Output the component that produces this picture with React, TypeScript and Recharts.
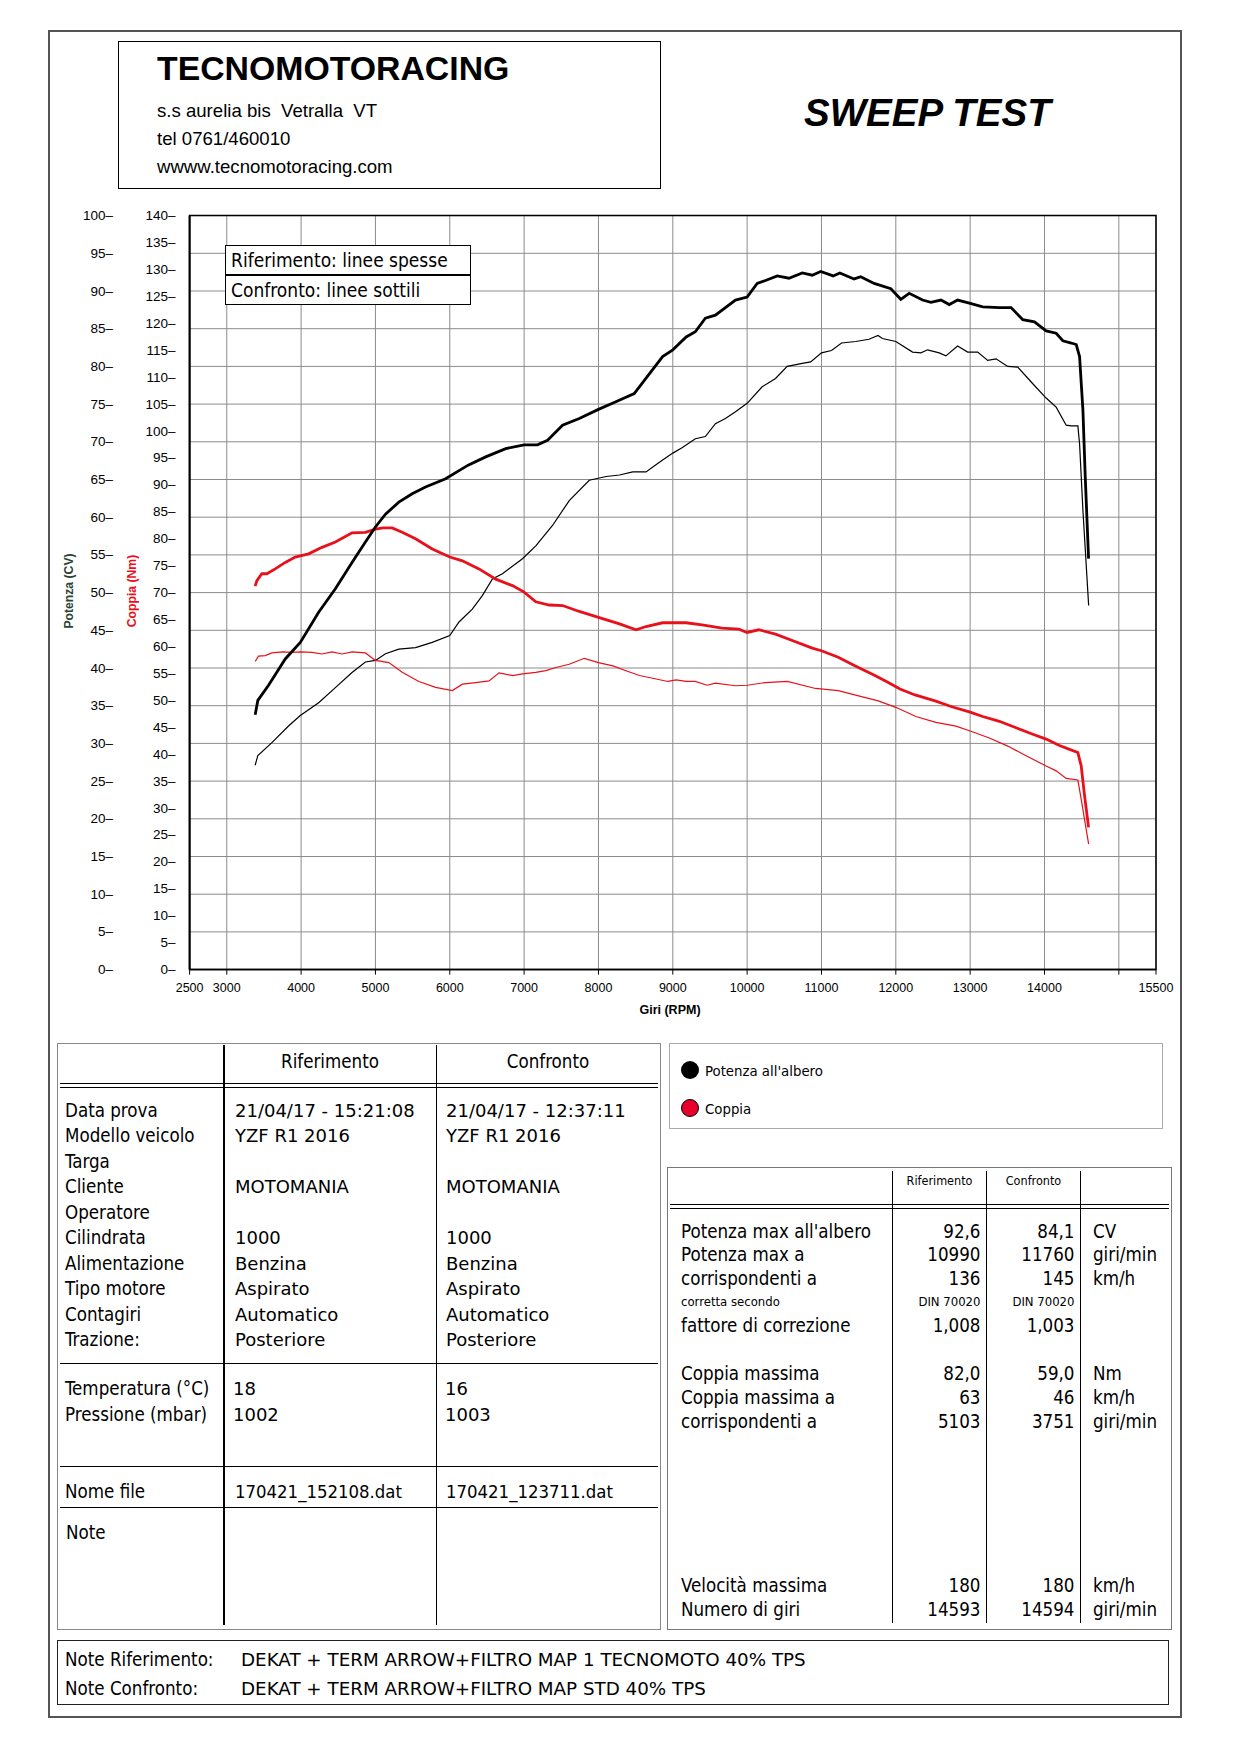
import React from 'react';
import { LineChart, Line, XAxis, YAxis, CartesianGrid, ReferenceArea } from 'recharts';

// ---------- data ----------
const rpmTicks = [2500, 3000, 4000, 5000, 6000, 7000, 8000, 9000, 10000, 11000, 12000, 13000, 14000, 15000, 15500];
const powerTicks = [0, 5, 10, 15, 20, 25, 30, 35, 40, 45, 50, 55, 60, 65, 70, 75, 80, 85, 90, 95, 100];
const torqueTicks = [0, 5, 10, 15, 20, 25, 30, 35, 40, 45, 50, 55, 60, 65, 70, 75, 80, 85, 90, 95, 100, 105, 110, 115, 120, 125, 130, 135, 140];

// [rpm, CV]
const refPower = [
  [3382, 33.8], [3418, 35.7], [3562, 37.7], [3787, 41.2], [3989, 43.4], [4236, 47.4], [4461, 50.5],
  [4685, 54.0], [4865, 56.7], [5000, 58.7], [5135, 60.4], [5315, 62.0], [5494, 63.1], [5674, 64.0],
  [5944, 65.1], [6247, 66.9], [6483, 68.0], [6753, 69.1], [7000, 69.6], [7180, 69.6], [7315, 70.2],
  [7517, 72.2], [7742, 73.1], [8000, 74.3], [8234, 75.3], [8481, 76.4], [8638, 78.4], [8863, 81.3],
  [9000, 82.2], [9180, 83.9], [9303, 84.6], [9438, 86.4], [9573, 86.8], [9843, 88.8], [10000, 89.2],
  [10135, 91.0], [10247, 91.4], [10405, 92.0], [10562, 91.7], [10742, 92.4], [10876, 92.1], [10990, 92.6],
  [11157, 92.0], [11247, 92.4], [11438, 91.6], [11528, 91.9], [11708, 91.0], [11933, 90.3], [12067, 88.9],
  [12180, 89.7], [12360, 88.8], [12472, 88.5], [12607, 88.8], [12719, 88.2], [12831, 88.8], [12989, 88.4],
  [13169, 87.9], [13393, 87.8], [13551, 87.8], [13708, 86.2], [13865, 85.9], [14022, 84.7], [14157, 84.4],
  [14247, 83.4], [14360, 83.1], [14427, 82.9], [14472, 81.3], [14517, 74.2], [14548, 65.4], [14593, 54.5],
];

const confPower = [
  [3382, 27.1], [3418, 28.4], [3607, 30.1], [3831, 32.3], [3989, 33.7], [4236, 35.4], [4461, 37.4],
  [4685, 39.4], [4865, 40.8], [5000, 41.0], [5135, 41.9], [5315, 42.5], [5539, 42.7], [5764, 43.4],
  [6000, 44.3], [6124, 46.1], [6303, 47.8], [6438, 49.6], [6573, 51.8], [6708, 52.5], [6978, 54.5],
  [7157, 56.2], [7382, 58.9], [7607, 62.2], [7876, 64.9], [8103, 65.4], [8283, 65.6], [8461, 66.0],
  [8640, 66.0], [8820, 67.3], [9000, 68.5], [9124, 69.2], [9303, 70.4], [9438, 70.7], [9573, 72.4],
  [9708, 73.1], [9843, 74.0], [10000, 75.1], [10202, 77.3], [10382, 78.4], [10539, 80.0], [10742, 80.4],
  [10854, 80.6], [11000, 81.8], [11135, 82.1], [11270, 83.1], [11461, 83.3], [11640, 83.6], [11760, 84.1],
  [11820, 83.7], [12000, 83.3], [12225, 81.9], [12337, 81.8], [12427, 82.2], [12584, 81.8], [12674, 81.4],
  [12831, 82.7], [12966, 81.9], [13101, 81.9], [13236, 80.8], [13348, 81.0], [13506, 80.0], [13640, 79.9],
  [13843, 77.7], [14022, 75.8], [14157, 74.6], [14292, 72.2], [14360, 72.1], [14449, 72.1], [14472, 69.7],
  [14517, 60.9], [14594, 48.3],
];

// [rpm, Nm]
const refTorque = [
  [3382, 71.2], [3405, 72.2], [3472, 73.5], [3539, 73.5], [3652, 74.4], [3787, 75.6], [3921, 76.6],
  [4101, 77.2], [4281, 78.4], [4461, 79.4], [4685, 81.1], [4865, 81.2], [5000, 81.8], [5103, 82.0],
  [5225, 82.0], [5360, 81.2], [5539, 80.0], [5764, 78.1], [6000, 76.6], [6170, 75.9], [6393, 74.4],
  [6618, 72.5], [6843, 71.3], [7000, 70.1], [7157, 68.3], [7337, 67.7], [7517, 67.6], [7742, 66.5],
  [8000, 65.4], [8283, 64.2], [8506, 63.1], [8640, 63.7], [8863, 64.4], [9000, 64.4], [9180, 64.4],
  [9393, 64.0], [9663, 63.4], [9888, 63.2], [10000, 62.6], [10157, 63.1], [10382, 62.3], [10607, 61.1],
  [10876, 59.7], [11000, 59.2], [11225, 58.0], [11449, 56.4], [11719, 54.6], [11899, 53.3], [12056, 52.1],
  [12258, 51.0], [12528, 49.9], [12753, 48.8], [13000, 47.8], [13169, 47.0], [13393, 46.1], [13618, 44.9],
  [13843, 43.7], [14022, 42.8], [14202, 41.6], [14337, 40.9], [14449, 40.3], [14494, 37.8], [14539, 32.3],
  [14593, 26.4],
];

const confTorque = [
  [3382, 57.2], [3427, 58.2], [3517, 58.3], [3607, 58.8], [3751, 59.0], [3876, 58.9], [3989, 59.0],
  [4146, 58.9], [4281, 58.6], [4416, 59.0], [4551, 58.6], [4685, 59.0], [4865, 58.8], [5000, 57.4],
  [5180, 57.0], [5360, 55.2], [5584, 53.5], [5809, 52.4], [6034, 51.8], [6170, 53.0], [6348, 53.3],
  [6528, 53.6], [6663, 55.1], [6843, 54.6], [6978, 54.9], [7157, 55.2], [7292, 55.5], [7427, 56.1],
  [7607, 56.7], [7809, 57.8], [8000, 57.0], [8193, 56.4], [8371, 55.5], [8551, 54.6], [8730, 54.1],
  [8933, 53.5], [9045, 53.8], [9180, 53.5], [9303, 53.5], [9461, 52.8], [9573, 53.2], [9843, 52.7],
  [10000, 52.8], [10247, 53.3], [10539, 53.5], [10921, 52.2], [11225, 51.8], [11539, 50.7], [11764, 49.9],
  [12000, 48.7], [12270, 47.0], [12539, 45.9], [12809, 45.2], [13000, 44.3], [13258, 43.0], [13506, 41.5],
  [13753, 39.7], [14022, 37.8], [14157, 36.9], [14292, 35.5], [14449, 35.2], [14494, 31.6], [14594, 23.3],
];

// ---------- table texts ----------
const headerLines = ['s.s aurelia bis  Vetralla  VT', 'tel 0761/460010', 'wwww.tecnomotoracing.com'];
const colHeads = ['Riferimento', 'Confronto'];
const infoLabels = ['Data prova', 'Modello veicolo', 'Targa', 'Cliente', 'Operatore', 'Cilindrata', 'Alimentazione', 'Tipo motore', 'Contagiri', 'Trazione:'];
const refInfo = ['21/04/17 - 15:21:08', 'YZF R1 2016', '', 'MOTOMANIA', '', '1000', 'Benzina', 'Aspirato', 'Automatico', 'Posteriore'];
const confInfo = ['21/04/17 - 12:37:11', 'YZF R1 2016', '', 'MOTOMANIA', '', '1000', 'Benzina', 'Aspirato', 'Automatico', 'Posteriore'];
const envLabels = ['Temperatura (°C)', 'Pressione (mbar)'];
const refEnv = ['18', '1002'];
const confEnv = ['16', '1003'];
const fileLabel = 'Nome file';
const refFile = '170421_152108.dat';
const confFile = '170421_123711.dat';

const powerGroupLabels = ["Potenza max all'albero", 'Potenza max a', 'corrispondenti a', 'corretta secondo', 'fattore di correzione'];
const powerGroupRef = ['92,6', '10990', '136', 'DIN 70020', '1,008'];
const powerGroupConf = ['84,1', '11760', '145', 'DIN 70020', '1,003'];
const powerGroupUnits = ['CV', 'giri/min', 'km/h', '', ''];
const torqueGroupLabels = ['Coppia massima', 'Coppia massima a', 'corrispondenti a'];
const torqueGroupRef = ['82,0', '63', '5103'];
const torqueGroupConf = ['59,0', '46', '3751'];
const torqueGroupUnits = ['Nm', 'km/h', 'giri/min'];
const speedGroupLabels = ['Velocità massima', 'Numero di giri'];
const speedGroupRef = ['180', '14593'];
const speedGroupConf = ['180', '14594'];
const speedGroupUnits = ['km/h', 'giri/min'];

const noteLabels = ['Note Riferimento:', 'Note Confronto:'];
const noteTexts = ['DEKAT + TERM ARROW+FILTRO MAP 1 TECNOMOTO 40% TPS', 'DEKAT + TERM ARROW+FILTRO MAP STD 40% TPS'];

// ---------- helpers ----------
const CHART_FONT = '"Liberation Sans", Arial, sans-serif';
const TFONT = '"DejaVu Sans Condensed", "DejaVu Sans", sans-serif';
const WFONT = '"DejaVu Sans", sans-serif';
const RED = '#e8101a';
// axis ids (torque axis sits next to the plot, power axis outside it)
const TORQUE_AXIS = 'a_torque';
const POWER_AXIS = 'b_power';

const toPoints = (pairs: number[][]) => pairs.map(([rpm, v]) => ({ rpm, v }));

function T({ x, y, children, size = 18.6, anchor = 'start', font = TFONT, weight = 'normal', style = {} }: any) {
  const tx = anchor === 'end' ? '-100%' : anchor === 'middle' ? '-50%' : '0';
  return (
    <div
      style={{
        position: 'absolute', left: x, top: y, transform: `translate(${tx}, -50%)`,
        fontSize: size, fontFamily: font, fontWeight: weight, whiteSpace: 'nowrap', lineHeight: 1.15, color: '#000', ...style,
      }}
    >
      {children}
    </div>
  );
}

function Box({ x1, y1, x2, y2, color = '#000', w = 1.5 }: any) {
  return <div style={{ position: 'absolute', left: x1, top: y1, width: x2 - x1, height: y2 - y1, border: `${w}px solid ${color}`, boxSizing: 'border-box' }} />;
}
function HL({ x1, x2, y, color = '#000', w = 1.5 }: any) {
  return <div style={{ position: 'absolute', left: x1, top: y - w / 2, width: x2 - x1, height: w, background: color }} />;
}
function VL({ x, y1, y2, color = '#000', w = 1.5 }: any) {
  return <div style={{ position: 'absolute', left: x - w / 2, top: y1, width: w, height: y2 - y1, background: color }} />;
}

const AxisTick = ({ x, y, payload }: any) => (
  <text x={x} y={y} dy={4.5} textAnchor="end" fontSize={13.5} fontFamily={CHART_FONT} fill="#000">{`${payload.value}–`}</text>
);

function Chart() {
  return (
    <div style={{ position: 'absolute', left: 40, top: 200 }}>
      <LineChart width={1140} height={820} margin={{ top: 15.6, right: 24, left: 29.6, bottom: 0 }}>
        <CartesianGrid yAxisId={POWER_AXIS} stroke="#8c8c8c" strokeWidth={1} />
        <XAxis
          dataKey="rpm" type="number" domain={[2500, 15500]} ticks={rpmTicks} interval={0} height={50.4}
          tickSize={5} tickMargin={9} allowDataOverflow
          tickFormatter={(v: number) => (v === 15000 ? '' : String(v))}
          tick={{ fontSize: 12.5, fontFamily: CHART_FONT, fill: '#000' }}
          stroke="#000" axisLine={{ stroke: '#000', strokeWidth: 1.5 }} tickLine={{ stroke: '#000' }}
        />
        <YAxis
          yAxisId={TORQUE_AXIS} orientation="left" domain={[0, 140]} ticks={torqueTicks} interval={0} width={60}
          tickSize={0} tickMargin={14} tick={<AxisTick />} axisLine={{ stroke: '#000', strokeWidth: 2 }} allowDataOverflow
        />
        <YAxis
          yAxisId={POWER_AXIS} orientation="left" domain={[0, 100]} ticks={powerTicks} interval={0} width={60}
          tickSize={0} tickMargin={16.6} tick={<AxisTick />} axisLine={false} allowDataOverflow
        />
        <ReferenceArea yAxisId={POWER_AXIS} x1={2500} x2={15500} y1={0} y2={100} fill="none" stroke="#000" strokeWidth={1.5} ifOverflow="visible" />
        <Line data={toPoints(confPower)} dataKey="v" yAxisId={POWER_AXIS} type="linear" stroke="#000" strokeWidth={1.2} dot={false} isAnimationActive={false} />
        <Line data={toPoints(confTorque)} dataKey="v" yAxisId={TORQUE_AXIS} type="linear" stroke={RED} strokeWidth={1.2} dot={false} isAnimationActive={false} />
        <Line data={toPoints(refTorque)} dataKey="v" yAxisId={TORQUE_AXIS} type="linear" stroke={RED} strokeWidth={2.8} dot={false} isAnimationActive={false} />
        <Line data={toPoints(refPower)} dataKey="v" yAxisId={POWER_AXIS} type="linear" stroke="#000" strokeWidth={2.8} dot={false} isAnimationActive={false} />
      </LineChart>
    </div>
  );
}

export default function App() {
  const infoY = (i: number) => 1110.5 + i * 25.5;
  const envY = (i: number) => 1388.5 + i * 26.5;
  const pY = (i: number) => 1231.5 + i * 23.5;
  const tY = (i: number) => 1374 + i * 24;
  const sY = (i: number) => 1586 + i * 24;
  const refR = 980.5;
  const confR = 1074.5;
  const unitX = 1093;
  return (
    <div style={{ position: 'absolute', left: 0, top: 0, width: 1240, height: 1754, background: '#fff', overflow: 'hidden' }}>
      {/* page frame */}
      <Box x1={48} y1={30} x2={1181.5} y2={1718} color="#555" w={2} />

      {/* header */}
      <Box x1={118} y1={41} x2={660.5} y2={188.5} color="#000" w={1.5} />
      <T x={157} y={68} size={33.8} font={CHART_FONT} weight="bold">TECNOMOTORACING</T>
      {headerLines.map((l, i) => (
        <T key={l} x={157} y={111 + i * 28} size={18.6} font={CHART_FONT} style={{ whiteSpace: 'pre' }}>{l}</T>
      ))}
      <T x={804} y={113} size={38.5} font={CHART_FONT} weight="bold" style={{ fontStyle: 'italic' }}>SWEEP TEST</T>

      {/* chart */}
      <Chart />
      <T x={69} y={591} size={12.2} font={CHART_FONT} weight="bold" anchor="middle" style={{ transform: 'translate(-50%, -50%) rotate(-90deg)', color: '#2a4436' }}>Potenza (CV)</T>
      <T x={132} y={591} size={12.2} font={CHART_FONT} weight="bold" anchor="middle" style={{ transform: 'translate(-50%, -50%) rotate(-90deg)', color: RED }}>Coppia (Nm)</T>
      <T x={670} y={1009.5} size={12.5} font={CHART_FONT} weight="bold" anchor="middle">Giri (RPM)</T>

      {/* line style legend */}
      <div style={{ position: 'absolute', left: 225, top: 245, width: 246, height: 60, background: '#fff' }} />
      <Box x1={225} y1={245} x2={471} y2={305} />
      <HL x1={225} x2={471} y={275} />
      <T x={231} y={261} size={19}>Riferimento: linee spesse</T>
      <T x={231} y={290.5} size={19}>Confronto: linee sottili</T>

      {/* left table */}
      <Box x1={57} y1={1042.5} x2={660.5} y2={1629.5} color="#888" w={1.5} />
      <VL x={224} y1={1045} y2={1625} />
      <VL x={436.5} y1={1045} y2={1625} />
      <T x={330} y={1061.5} size={18.6} anchor="middle">{colHeads[0]}</T>
      <T x={548} y={1061.5} size={18.6} anchor="middle">{colHeads[1]}</T>
      <HL x1={60} x2={658} y={1083.5} w={1.5} />
      <HL x1={60} x2={658} y={1087.5} w={1.5} />
      {infoLabels.map((l, i) => (
        <React.Fragment key={l}>
          <T x={65} y={infoY(i)}>{l}</T>
          <T x={235} y={infoY(i)} font={WFONT} size={18}>{refInfo[i]}</T>
          <T x={446} y={infoY(i)} font={WFONT} size={18}>{confInfo[i]}</T>
        </React.Fragment>
      ))}
      <HL x1={60} x2={658} y={1363.5} />
      {envLabels.map((l, i) => (
        <React.Fragment key={l}>
          <T x={65} y={envY(i)}>{l}</T>
          <T x={233} y={envY(i)} font={WFONT} size={18}>{refEnv[i]}</T>
          <T x={445} y={envY(i)} font={WFONT} size={18}>{confEnv[i]}</T>
        </React.Fragment>
      ))}
      <HL x1={60} x2={658} y={1466.5} />
      <T x={65} y={1491.5}>{fileLabel}</T>
      <T x={235} y={1491.5} size={18.4}>{refFile}</T>
      <T x={446} y={1491.5} size={18.4}>{confFile}</T>
      <HL x1={60} x2={658} y={1507.5} />
      <T x={66} y={1532.5}>Note</T>

      {/* series legend */}
      <Box x1={669} y1={1042.5} x2={1163} y2={1128.5} color="#aaa" w={1.5} />
      <div style={{ position: 'absolute', left: 681, top: 1061, width: 18, height: 18, borderRadius: '50%', background: '#000' }} />
      <T x={705} y={1070.5} size={14.8}>Potenza all'albero</T>
      <div style={{ position: 'absolute', left: 681, top: 1099, width: 18, height: 18, borderRadius: '50%', background: '#e8002d', border: '1px solid #000', boxSizing: 'border-box' }} />
      <T x={705} y={1108.5} size={14.8}>Coppia</T>

      {/* stats table */}
      <Box x1={667} y1={1166.5} x2={1172} y2={1629.5} color="#777" w={1.5} />
      <VL x={892.4} y1={1171} y2={1623} />
      <VL x={986.5} y1={1171} y2={1623} />
      <VL x={1080.5} y1={1171} y2={1623} />
      <T x={939.5} y={1180.5} size={12.5} anchor="middle">{colHeads[0]}</T>
      <T x={1033.5} y={1180.5} size={12.5} anchor="middle">{colHeads[1]}</T>
      <HL x1={670} x2={1169} y={1204.5} w={1.5} />
      <HL x1={670} x2={1169} y={1208.5} w={1.5} />
      {powerGroupLabels.map((l, i) => {
        const small = i === 3;
        const sz = small ? 13 : 18.6;
        return (
          <React.Fragment key={l}>
            <T x={681} y={pY(i)} size={sz}>{l}</T>
            <T x={refR} y={pY(i)} size={sz} anchor="end">{powerGroupRef[i]}</T>
            <T x={confR} y={pY(i)} size={sz} anchor="end">{powerGroupConf[i]}</T>
            <T x={unitX} y={pY(i)} size={sz}>{powerGroupUnits[i]}</T>
          </React.Fragment>
        );
      })}
      {torqueGroupLabels.map((l, i) => (
        <React.Fragment key={l + i}>
          <T x={681} y={tY(i)}>{l}</T>
          <T x={refR} y={tY(i)} anchor="end">{torqueGroupRef[i]}</T>
          <T x={confR} y={tY(i)} anchor="end">{torqueGroupConf[i]}</T>
          <T x={unitX} y={tY(i)}>{torqueGroupUnits[i]}</T>
        </React.Fragment>
      ))}
      {speedGroupLabels.map((l, i) => (
        <React.Fragment key={l}>
          <T x={681} y={sY(i)}>{l}</T>
          <T x={refR} y={sY(i)} anchor="end">{speedGroupRef[i]}</T>
          <T x={confR} y={sY(i)} anchor="end">{speedGroupConf[i]}</T>
          <T x={unitX} y={sY(i)}>{speedGroupUnits[i]}</T>
        </React.Fragment>
      ))}

      {/* notes */}
      <Box x1={57} y1={1639.5} x2={1168.5} y2={1705} color="#222" w={1.5} />
      {noteLabels.map((l, i) => (
        <React.Fragment key={l}>
          <T x={65} y={1659.5 + i * 29}>{l}</T>
          <T x={241} y={1659.5 + i * 29} font={WFONT} size={18.3}>{noteTexts[i]}</T>
        </React.Fragment>
      ))}
    </div>
  );
}
